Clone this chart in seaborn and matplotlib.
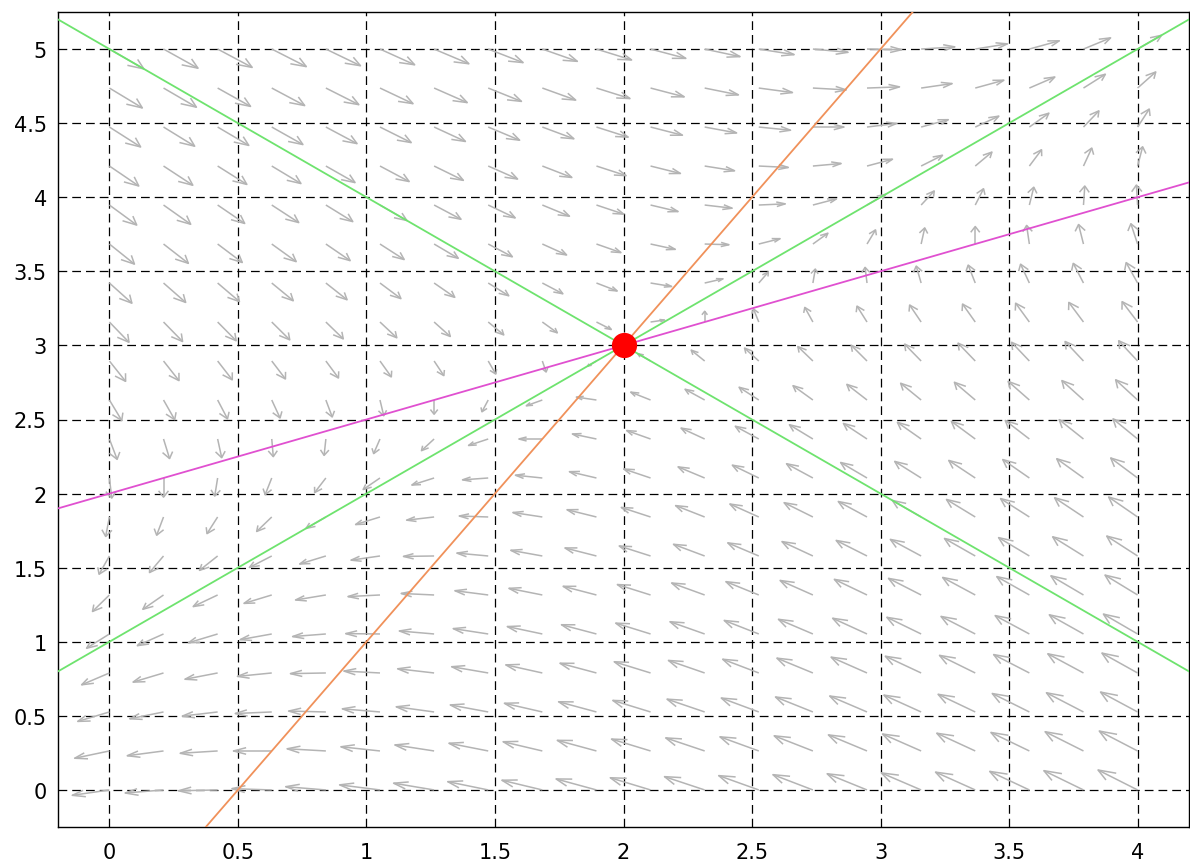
import numpy as np
import pandas as pd
import seaborn as sns
import matplotlib
matplotlib.use("Agg")
import matplotlib.pyplot as plt
from matplotlib.collections import LineCollection

# saddle point and the linear system around it
saddle = [2.0, 3.0]
jacobian = [[-1.0, 2.0], [2.0, -1.0]]

# sampling grid of the direction field
grid_x = np.linspace(0, 4, 20)
grid_y = np.linspace(0, 5, 20)

# straight lines, given by their end points
nullcline_dx_x = [-0.2, 4.2]
nullcline_dx_y = [1.9, 4.1]
nullcline_dy_x = [0.375, 3.125]
nullcline_dy_y = [-0.25, 5.25]
stable_x = [-0.2, 4.2]
stable_y = [5.2, 0.8]
unstable_x = [-0.2, 4.2]
unstable_y = [0.8, 5.2]

ticks_x = [0, 0.5, 1, 1.5, 2, 2.5, 3, 3.5, 4]
ticks_y = [0, 0.5, 1, 1.5, 2, 2.5, 3, 3.5, 4, 4.5, 5]


def arrow_segments(gx, gy):
    X, Y = np.meshgrid(gx, gy)
    du = X - saddle[0]
    dv = Y - saddle[1]
    fu = jacobian[0][0] * du + jacobian[0][1] * dv
    fv = jacobian[1][0] * du + jacobian[1][1] * dv
    mag = np.hypot(fu, fv)
    k = 0.093 * np.power(mag, -2.0 / 3.0)
    u = (fu * k).ravel()
    v = (fv * k).ravel()
    x = X.ravel()
    y = Y.ravel()
    a, b = 0.33, 0.45
    segs = []
    for xi, yi, ui, vi in zip(x, y, u, v):
        tx, ty = xi + ui, yi + vi
        segs.append([(xi, yi), (tx, ty)])
        segs.append([
            (tx - a * (ui + b * vi), ty - a * (vi - b * ui)),
            (tx, ty),
            (tx - a * (ui - b * vi), ty - a * (vi + b * ui)),
        ])
    return segs


def main():
    sns.set_style("white")
    plt.rcParams['font.family'] = ['DejaVu Sans']

    fig = plt.figure(figsize=(11.9, 8.62), dpi=100)
    ax = fig.add_axes([58 / 1190, 1 - 828 / 862, 1131 / 1190, 815 / 862])

    ax.add_collection(LineCollection(arrow_segments(grid_x, grid_y),
                                     colors='#b4b4b4', linewidths=1.1, zorder=2))

    lines = pd.DataFrame({
        'x': stable_x + unstable_x + nullcline_dx_x + nullcline_dy_x,
        'y': stable_y + unstable_y + nullcline_dx_y + nullcline_dy_y,
        'kind': ['stable'] * 2 + ['unstable'] * 2 + ['dx'] * 2 + ['dy'] * 2,
    })
    palette = {'stable': '#6ee36e', 'unstable': '#6ee36e',
               'dx': '#e050d0', 'dy': '#f0915a'}
    sns.lineplot(data=lines, x='x', y='y', hue='kind', palette=palette,
                 sort=False, estimator=None, linewidth=1.3, legend=False,
                 ax=ax, zorder=3)

    sns.scatterplot(x=[saddle[0]], y=[saddle[1]], color='red', s=330,
                    edgecolor='red', linewidth=0, ax=ax, zorder=4)

    ax.set_xlim(-0.2, 4.2)
    ax.set_ylim(-0.25, 5.25)
    ax.set_xticks(ticks_x)
    ax.set_yticks(ticks_y)
    ax.set_xticklabels([f"{t:g}" for t in ticks_x])
    ax.set_yticklabels([f"{t:g}" for t in ticks_y])
    ax.set_xlabel('')
    ax.set_ylabel('')
    ax.grid(True, color='black', linestyle=(0, (7, 4)), linewidth=0.9)
    ax.set_axisbelow(True)
    ax.tick_params(axis='x', length=0, pad=11, labelsize=15, labelcolor='black')
    ax.tick_params(axis='y', length=0, pad=8, labelsize=15, labelcolor='black')
    for sp in ax.spines.values():
        sp.set_color('black')
        sp.set_linewidth(1.0)

    fig.savefig('out.png', dpi=100)


if __name__ == "__main__":
    main()
